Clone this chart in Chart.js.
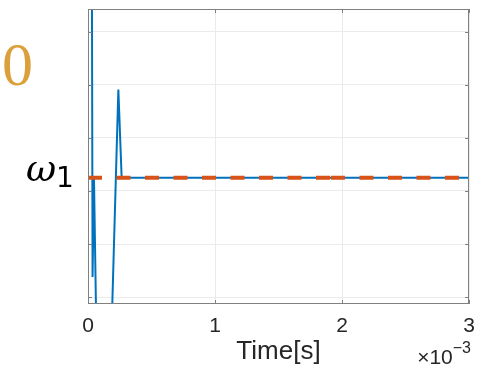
<!DOCTYPE html>
<html>
<head>
<meta charset="utf-8">
<script src="https://cdn.jsdelivr.net/npm/chart.js@4.4.1/dist/chart.umd.min.js"></script>
<style>
html,body{margin:0;padding:0;background:#fff;}
#wrap{position:relative;width:481px;height:370px;}
canvas{display:block;}
</style>
</head>
<body>
<div id="wrap"><canvas id="c" width="481" height="370"></canvas></div>
<script>
// Time samples (ms) and response (gridline units)
const timeBlue = [0, 0.029, 0.036, 0.047, 0.068, 0.181, 0.239, 0.265, 3.0];
const speedBlue = [8.0, 8.0, 0.38, 2.25, -1.0, -1.0, 3.91, 2.25, 2.25];
// reference (dashed) drawn in two pieces, as in the picture
const timeRefA = [0, 1.913];
const speedRefA = [2.25, 2.25];
const timeRefB = [1.913, 3.0];
const speedRefB = [2.25, 2.25];
const xTicks = [0, 1, 2, 3];
const yTicks = [0, 1, 2, 3, 4, 5];
const leftLabels = ["0", "ω", "1"];
const xTitle = "Time[s]";
const expLabel = ["×10", "−3"];

const toPts = (xs, ys) => xs.map((x, i) => ({x: x / 1000, y: ys[i]}));

const annot = {
  id: 'annot',
  afterDraw(chart) {
    const ctx = chart.ctx;
    ctx.save();
    ctx.textBaseline = 'alphabetic';
    ctx.textAlign = 'left';
    // orange zero
    ctx.fillStyle = '#DBA03C';
    ctx.font = '62px "Liberation Serif", serif';
    ctx.fillText(leftLabels[0], 2, 85);
    // omega_1
    ctx.fillStyle = '#000';
    ctx.font = 'italic 37px "DejaVu Serif", serif';
    ctx.fillText(leftLabels[1], 26, 181);
    ctx.font = '28px "DejaVu Sans", sans-serif';
    ctx.fillText(leftLabels[2], 56, 187);
    // exponent
    ctx.fillStyle = '#262626';
    ctx.textAlign = 'right';
    ctx.font = '16px "Liberation Sans", sans-serif';
    ctx.fillText(expLabel[1], 471, 353);
    const w = ctx.measureText(expLabel[1]).width;
    ctx.font = '21px "Liberation Sans", sans-serif';
    ctx.fillText(expLabel[0], 471 - w, 364);
    // inner ticks and box
    const ys = chart.scales.y, xs = chart.scales.x, a = chart.chartArea;
    ctx.strokeStyle = '#808080';
    ctx.lineWidth = 1;
    ctx.beginPath();
    yTicks.forEach(v => {
      const py = Math.round(ys.getPixelForValue(v)) + 0.5;
      ctx.moveTo(a.left, py); ctx.lineTo(a.left + 4, py);
      ctx.moveTo(a.right, py); ctx.lineTo(a.right - 4, py);
    });
    xTicks.forEach(v => {
      const px = Math.round(xs.getPixelForValue(v / 1000)) + 0.5;
      ctx.moveTo(px, a.bottom); ctx.lineTo(px, a.bottom - 4);
      ctx.moveTo(px, a.top); ctx.lineTo(px, a.top + 4);
    });
    ctx.stroke();
    ctx.strokeRect(a.left + 0.5, a.top + 0.5, a.right - a.left - 1, a.bottom - a.top - 1);
    ctx.restore();
  }
};

const refStyle = {
  borderColor: '#D95319',
  borderWidth: 4,
  borderDash: [14, 14.5],
  pointRadius: 0,
  fill: false,
  tension: 0
};

new Chart(document.getElementById('c'), {
  type: 'line',
  data: {
    datasets: [
      Object.assign({data: toPts(timeRefA, speedRefA)}, refStyle),
      Object.assign({data: toPts(timeRefB, speedRefB)}, refStyle),
      {
        data: toPts(timeBlue, speedBlue),
        borderColor: '#0072BD',
        borderWidth: 2,
        pointRadius: 0,
        fill: false,
        tension: 0
      }
    ]
  },
  options: {
    responsive: false,
    animation: false,
    devicePixelRatio: 1,
    layout: {padding: {top: 9, right: 12, left: 0, bottom: 0}},
    plugins: {legend: {display: false}, tooltip: {enabled: false}},
    scales: {
      x: {
        type: 'linear',
        min: 0,
        max: 0.003,
        afterBuildTicks: s => { s.ticks = xTicks.map(v => ({value: v / 1000})); },
        afterFit: s => { s.height = 66; s.paddingLeft = 0; s.paddingRight = 0; },
        grid: {color: '#EBEBEB', drawTicks: false},
        border: {display: false},
        ticks: {
          padding: 10,
          color: '#262626',
          font: {family: '"Liberation Sans", sans-serif', size: 21},
          callback: v => String(Math.round(v * 1000))
        },
        title: {
          display: true,
          text: xTitle,
          color: '#262626',
          font: {family: '"Liberation Sans", sans-serif', size: 26},
          padding: {top: 0, bottom: 3}
        }
      },
      y: {
        type: 'linear',
        min: -0.13,
        max: 5.43,
        afterBuildTicks: s => { s.ticks = yTicks.map(v => ({value: v})); },
        afterFit: s => { s.width = 88; s.paddingTop = 0; s.paddingBottom = 0; },
        grid: {color: '#EBEBEB', drawTicks: false},
        border: {display: false},
        ticks: {display: false}
      }
    }
  },
  plugins: [annot]
});
</script>
</body>
</html>
